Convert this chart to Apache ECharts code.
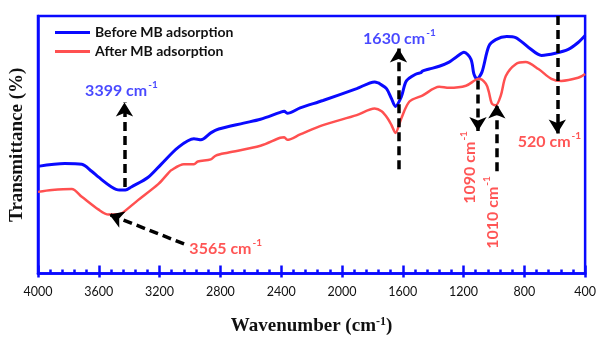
<!DOCTYPE html>
<html><head><meta charset="utf-8">
<script src="https://cdn.jsdelivr.net/npm/echarts@6/dist/echarts.min.js"></script>
<style>html,body{margin:0;padding:0;background:#fff}#c{width:599px;height:341px}</style>
</head><body><div id="c"></div>
<script>
// Wavenumber (cm-1) and transmittance (arbitrary %, 0-100 scale)
const beforeWn = [4000,3824,3712,3647,3601,3516,3464,3425,3386,3275,3190,3079,2974,2940,2928,2863,2811,2647,2536,2406,2380,2360,2275,2125,1903,1785,1760,1752,1707,1674,1648,1609,1576,1511,1480,1471,1426,1360,1295,1249,1197,1151,1132,1112,1079,1034,988,916,857,772,687,596,511,446,400];
const beforeT  = [41.6,42.7,42.4,39.7,37.4,33.6,32.4,32.4,33.6,37.4,42.4,48.9,52.3,52.0,51.9,54.6,56.1,58.4,59.9,62.6,63.0,62.2,64.3,67.2,71.8,74.4,74.0,73.7,71.8,67.9,64.9,68.7,74.8,77.5,78.0,78.6,79.4,80.5,82.1,84.0,85.9,83.2,77.5,75.6,78.2,88.2,90.8,92.0,91.6,87.8,84.7,85.5,87.0,89.7,92.4];
const afterWn  = [4000,3908,3778,3712,3601,3536,3484,3451,3340,3209,3144,3124,3040,2974,2948,2863,2830,2752,2536,2406,2380,2360,2275,2125,1903,1785,1739,1700,1674,1648,1609,1556,1471,1360,1295,1184,1099,1053,1034,1014,988,955,922,857,792,707,622,557,446,400];
const afterT   = [31.7,32.4,32.8,29.8,24.8,22.9,22.9,23.3,28.6,34.7,38.9,40.1,42.4,42.4,43.5,44.3,45.8,46.9,49.6,52.7,52.9,51.9,54.0,57.6,61.5,64.1,63.0,60.3,57.6,54.6,60.3,66.8,69.1,72.5,72.1,72.9,75.6,73.7,70.6,66.0,65.3,69.1,76.7,81.3,82.1,79.4,75.6,74.8,76.0,77.5];
const xTicks = [4000,3600,3200,2800,2400,2000,1600,1200,800,400];

// Annotation arrows: [fromWn, fromT, toWn, toT]
const arrows = [
  [3431, 33.6, 3431, 66.4],
  [1628, 40.5, 1628, 87.4],
  [1105, 75.0, 1105, 55.3],
  [981, 39.7, 981, 65.6],
  [583, 100, 583, 54.4],
  [3039, 11.5, 3530, 22.9]
];
// Annotation labels: [wn, T, text, rotate]
const blueLabels = [[3451, 71.0, '3399', 0],[1622, 91.2, '1630', 0]];
const redLabels  = [[2765, 9.5, '3565', 0],[635, 51.1, '520', 0],[1158, 41.2, '1090', 90],[1007, 23.7, '1010', 90]];

const BLUE = '#0a0aff', RED = '#ff5050';
const pairs = (a,b) => a.map((v,i)=>[v,b[i]]);
function richFor(color){
  return {
    n:{fontFamily:'Lato',fontWeight:'bold',fontSize:16,color:color},
    s:{fontFamily:'Lato',fontWeight:'bold',fontSize:10,color:color,verticalAlign:'top',padding:[0,0,12,1]}
  };
}
function labelSeries(list,color){
  return {
    type:'scatter', symbolSize:0, clip:false, silent:true, z:5,
    data:list.map(l=>({value:[l[0],l[1]], label:{rotate:l[3]}})),
    label:{show:true, position:[0,0], align:'center', verticalAlign:'middle',
      formatter:p=>'{n|'+list[p.dataIndex][2]+' cm}{s|-1}', rich:richFor(color)}
  };
}
const chart = echarts.init(document.getElementById('c'));
chart.setOption({
  animation:false,
  grid:{left:36,right:12,top:16,bottom:63,show:true,borderColor:BLUE,borderWidth:2.5,backgroundColor:'transparent'},
  legend:{left:55,top:24,orient:'vertical',icon:'rect',itemWidth:35,itemHeight:3,itemGap:2,padding:0,
    data:['Before MB adsorption','After MB adsorption'],
    textStyle:{fontFamily:'Lato',fontWeight:'bold',fontSize:14,color:'#111',lineHeight:17}},
  xAxis:[{
    type:'value', inverse:true, min:400, max:4000, interval:400,
    name:'{w|Wavenumber (cm}{s|-1}{w|)}', nameLocation:'middle', nameGap:42,
    nameTextStyle:{rich:{w:{fontFamily:'Liberation Serif',fontWeight:'bold',fontSize:19,color:'#111'},
      s:{fontFamily:'Liberation Serif',fontWeight:'bold',fontSize:12,color:'#111',verticalAlign:'top',padding:[0,0,10,0]}}},
    axisLine:{lineStyle:{color:BLUE,width:2.5}},
    axisTick:{inside:true,length:8,lineStyle:{color:BLUE,width:2.5}},
    minorTick:{show:true,splitNumber:5,length:4,lineStyle:{color:BLUE,width:2.5}},
    splitLine:{show:false},
    axisLabel:{fontFamily:'Lato',fontSize:12.5,color:'#111',margin:12,showMinLabel:true,showMaxLabel:true,
      formatter:v=>xTicks.includes(v)?String(v):''}
  },{
    type:'value', inverse:true, min:400, max:4000, interval:400, position:'bottom', offset:0,
    axisLine:{show:false}, axisLabel:{show:false}, splitLine:{show:false},
    axisTick:{inside:false,length:4,lineStyle:{color:BLUE,width:2.5}}
  }],
  yAxis:{type:'value',min:0,max:100,
    name:'Transmittance (%)', nameLocation:'middle', nameGap:11, nameRotate:90,
    nameTextStyle:{fontFamily:'Liberation Serif',fontWeight:'bold',fontSize:19,color:'#111'},
    axisLine:{show:true,lineStyle:{color:BLUE,width:2.5}},
    axisTick:{show:false},axisLabel:{show:false},splitLine:{show:false}},
  series:[
    {name:'Before MB adsorption',type:'line',data:pairs(beforeWn,beforeT),showSymbol:false,symbol:'none',smooth:0.3,
      lineStyle:{color:BLUE,width:3},itemStyle:{color:BLUE}},
    {name:'After MB adsorption',type:'line',data:pairs(afterWn,afterT),showSymbol:false,symbol:'none',smooth:0.3,
      lineStyle:{color:RED,width:2.5},itemStyle:{color:RED}},
    {type:'line',data:[],clip:false,silent:true,z:4,
      markLine:{silent:true,symbol:['none','arrow'],symbolSize:[13,14],animation:false,
        label:{show:false},
        lineStyle:{color:'#000',width:3.5,type:[9,5]},
        data:arrows.map(a=>[{coord:[a[0],a[1]]},{coord:[a[2],a[3]]}])}},
    labelSeries(blueLabels,'#1a1aff'),
    labelSeries(redLabels,'#ff2a2a')
  ]
});
</script></body></html>
